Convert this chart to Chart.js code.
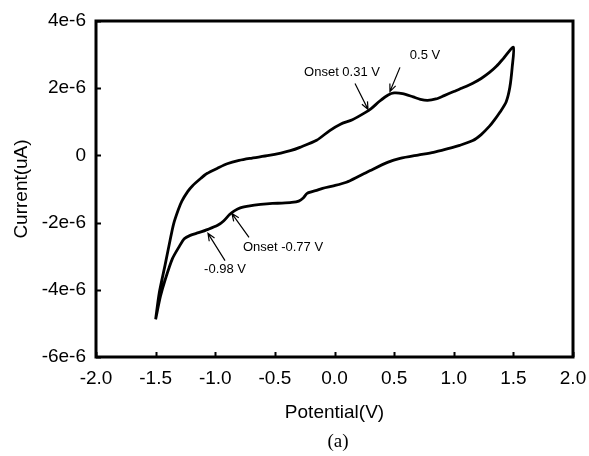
<!DOCTYPE html>
<html>
<head>
<meta charset="utf-8">
<script src="https://cdn.jsdelivr.net/npm/chart.js@4.4.0/dist/chart.umd.min.js"></script>
<style>
html, body { margin: 0; padding: 0; background: #fff; }
</style>
</head>
<body>
<canvas id="cv" width="589" height="456"></canvas>
<script>
// Cyclic voltammogram, values (current in units of 1e-6)
const anodicPotential = [-1.50, -1.47, -1.42, -1.38, -1.35, -1.31, -1.28, -1.23, -1.19, -1.12, -1.07, -0.98, -0.90, -0.80, -0.71, -0.55, -0.45, -0.37, -0.29, -0.15, -0.04, 0.05, 0.15, 0.26, 0.31, 0.38, 0.45, 0.50, 0.57, 0.66, 0.72, 0.78, 0.85, 0.92, 1.00, 1.08, 1.16, 1.23, 1.30, 1.36, 1.42, 1.50];
const anodicCurrent = [-4.88, -4.10, -3.25, -2.55, -2.05, -1.62, -1.36, -1.07, -0.90, -0.68, -0.54, -0.38, -0.25, -0.15, -0.09, 0.00, 0.07, 0.14, 0.24, 0.45, 0.74, 0.93, 1.06, 1.28, 1.40, 1.62, 1.80, 1.86, 1.84, 1.74, 1.67, 1.64, 1.68, 1.78, 1.90, 2.02, 2.15, 2.29, 2.47, 2.66, 2.90, 3.22];
const cathodicPotential = [1.49, 1.47, 1.44, 1.39, 1.34, 1.30, 1.23, 1.16, 1.05, 0.95, 0.83, 0.70, 0.55, 0.45, 0.30, 0.20, 0.10, 0.00, -0.10, -0.15, -0.23, -0.26, -0.30, -0.36, -0.44, -0.52, -0.62, -0.71, -0.79, -0.84, -0.88, -0.93, -0.98, -1.06, -1.14, -1.21, -1.26, -1.30, -1.36, -1.42, -1.46, -1.50];
const cathodicCurrent = [2.62, 2.02, 1.60, 1.30, 1.05, 0.87, 0.62, 0.44, 0.30, 0.20, 0.09, 0.01, -0.09, -0.20, -0.45, -0.63, -0.80, -0.90, -0.98, -1.04, -1.13, -1.26, -1.36, -1.40, -1.42, -1.43, -1.46, -1.50, -1.56, -1.65, -1.76, -1.95, -2.08, -2.20, -2.30, -2.38, -2.48, -2.70, -3.08, -3.70, -4.20, -4.88];

const xTicks = [-2.0, -1.5, -1.0, -0.5, 0.0, 0.5, 1.0, 1.5, 2.0];
const yTicks = [-6, -4, -2, 0, 2, 4];

// callouts: label position, arrow tail and arrow tip (data units)
const callouts = [
    { text: 'Onset 0.31 V', tx: 0.063, ty: 2.47, fx: 0.172, fy: 2.14, ax: 0.281, ay: 1.37 },
    { text: '0.5 V', tx: 0.759, ty: 2.98, fx: 0.549, fy: 2.62, ax: 0.465, ay: 1.90 },
    { text: 'Onset -0.77 V', tx: -0.432, ty: -2.74, fx: -0.717, fy: -2.44, ax: -0.860, ay: -1.73 },
    { text: '-0.98 V', tx: -0.918, ty: -3.39, fx: -0.918, fy: -3.13, ax: -1.061, ay: -2.32 }
];

const points = [];
anodicPotential.forEach((v, i) => points.push({ x: v, y: anodicCurrent[i] }));
cathodicPotential.forEach((v, i) => points.push({ x: v, y: cathodicCurrent[i] }));

const sansFont = "'Liberation Sans', Arial, sans-serif";

function drawArrow(ctx, x1, y1, x2, y2) {
    const ang = Math.atan2(y2 - y1, x2 - x1);
    const len = 8;
    ctx.beginPath();
    ctx.moveTo(x1, y1);
    ctx.lineTo(x2, y2);
    ctx.moveTo(x2 - len * Math.cos(ang - 0.4), y2 - len * Math.sin(ang - 0.4));
    ctx.lineTo(x2, y2);
    ctx.lineTo(x2 - len * Math.cos(ang + 0.4), y2 - len * Math.sin(ang + 0.4));
    ctx.stroke();
}

const framePlugin = {
    id: 'frame',
    afterDraw(chart) {
        const ctx = chart.ctx;
        const a = chart.chartArea;
        const xs = chart.scales.x, ys = chart.scales.y;
        ctx.save();
        ctx.strokeStyle = '#000';

        // inward ticks
        ctx.lineWidth = 2;
        ctx.beginPath();
        xTicks.forEach(t => {
            const px = Math.round(xs.getPixelForValue(t)) + 0.5;
            ctx.moveTo(px, a.bottom);
            ctx.lineTo(px, a.bottom - 5);
        });
        yTicks.forEach(t => {
            const py = Math.round(ys.getPixelForValue(t)) + 0.5;
            ctx.moveTo(a.left, py);
            ctx.lineTo(a.left + 5, py);
        });
        ctx.stroke();

        // box
        ctx.lineWidth = 3;
        ctx.strokeRect(a.left, a.top, a.right - a.left, a.bottom - a.top);

        // callouts
        ctx.lineWidth = 1.2;
        ctx.fillStyle = '#000';
        ctx.font = '13px ' + sansFont;
        ctx.textAlign = 'center';
        ctx.textBaseline = 'middle';
        callouts.forEach(c => {
            ctx.fillText(c.text, xs.getPixelForValue(c.tx), ys.getPixelForValue(c.ty));
            drawArrow(ctx, xs.getPixelForValue(c.fx), ys.getPixelForValue(c.fy),
                xs.getPixelForValue(c.ax), ys.getPixelForValue(c.ay));
        });

        // panel label
        ctx.font = "19px 'Liberation Serif', 'Times New Roman', serif";
        ctx.fillText('(a)', 338, 442);
        ctx.restore();
    }
};

new Chart(document.getElementById('cv'), {
    type: 'scatter',
    data: {
        datasets: [{
            data: points,
            showLine: true,
            borderColor: '#000',
            borderWidth: 2.8,
            pointRadius: 0,
            tension: 0.25,
            fill: false
        }]
    },
    options: {
        responsive: false,
        animation: false,
        layout: { padding: { left: 0, top: 21, right: 16, bottom: 29 } },
        plugins: {
            legend: { display: false },
            tooltip: { enabled: false }
        },
        scales: {
            x: {
                type: 'linear',
                min: -2,
                max: 2,
                afterFit: s => { s.height = 70; s.paddingLeft = 0; s.paddingRight = 0; },
                afterBuildTicks: s => { s.ticks = xTicks.map(v => ({ value: v })); },
                grid: { display: false, drawTicks: false },
                border: { display: false },
                ticks: {
                    color: '#000',
                    padding: 10,
                    font: { family: sansFont, size: 19 },
                    maxRotation: 0,
                    callback: v => v.toFixed(1)
                },
                title: {
                    display: true,
                    text: 'Potential(V)',
                    color: '#000',
                    font: { family: sansFont, size: 19 },
                    padding: { top: 0, bottom: 3 }
                }
            },
            y: {
                type: 'linear',
                min: -6,
                max: 4,
                afterFit: s => { s.width = 96; s.paddingTop = 0; s.paddingBottom = 0; },
                afterBuildTicks: s => { s.ticks = yTicks.map(v => ({ value: v })); },
                grid: { display: false, drawTicks: false },
                border: { display: false },
                ticks: {
                    color: '#000',
                    padding: 10,
                    font: { family: sansFont, size: 19 },
                    callback: v => (v === 0 ? '0' : v + 'e-6')
                },
                title: {
                    display: true,
                    text: 'Current(uA)',
                    color: '#000',
                    font: { family: sansFont, size: 19 },
                    padding: { top: 10, bottom: 0 }
                }
            }
        }
    },
    plugins: [framePlugin]
});
</script>
</body>
</html>
